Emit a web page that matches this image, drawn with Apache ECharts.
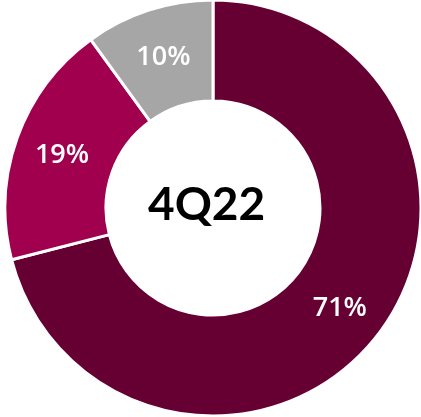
<!DOCTYPE html>
<html>
<head>
<meta charset="utf-8">
<script src="https://cdn.jsdelivr.net/npm/echarts@6/dist/echarts.min.js"></script>
<style>html,body{margin:0;padding:0;background:#fff}#c{width:421px;height:417px}</style>
</head>
<body>
<div id="c"></div>
<script>
var categories = ['A', 'B', 'C'];
var values = [71, 19, 10];
var colors = ['#660033', '#A1004F', '#A6A6A6'];
var centerText = '4Q22';

var chart = echarts.init(document.getElementById('c'));
chart.setOption({
  animation: false,
  graphic: [{
    type: 'text',
    left: 148, top: 182,
    style: { text: centerText, font: 'bold 46px Lato', fill: '#000' }
  }],
  series: [{
    type: 'pie',
    center: [213, 208],
    radius: [107, 208],
    startAngle: 90,
    clockwise: true,
    data: categories.map(function (c, i) {
      return { name: c, value: values[i], itemStyle: { color: colors[i] } };
    }),
    itemStyle: { borderColor: '#fff', borderWidth: 3 },
    label: {
      position: 'inside',
      formatter: '{c}%',
      color: '#fff',
      fontFamily: 'Open Sans',
      fontWeight: 600,
      fontSize: 27,
      offset: [0, 2]
    },
    labelLine: { show: false }
  }]
});
</script>
</body>
</html>
